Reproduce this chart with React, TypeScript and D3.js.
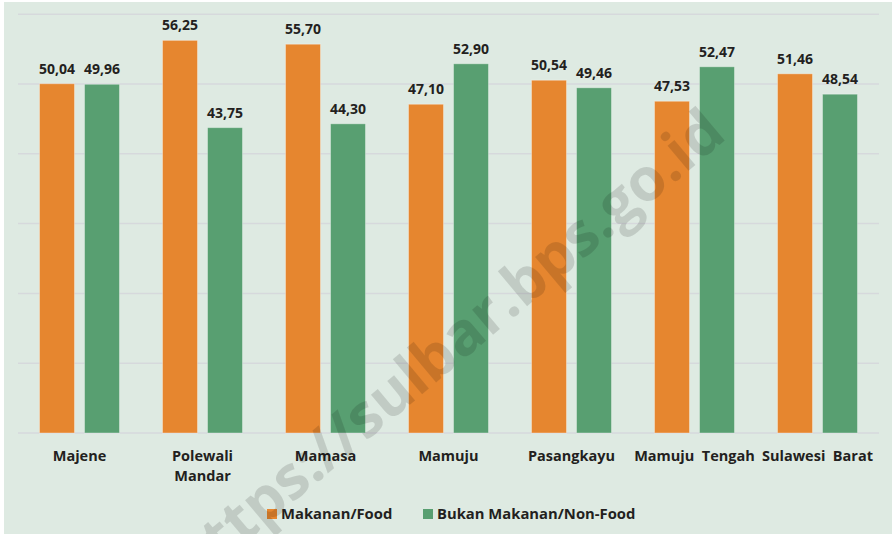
import React from "react";
import * as d3 from "d3";

const categories: string[][] = [
  ["Majene"],
  ["Polewali", "Mandar"],
  ["Mamasa"],
  ["Mamuju"],
  ["Pasangkayu"],
  ["Mamuju  Tengah"],
  ["Sulawesi  Barat"],
];
const seriesNames = ["Makanan/Food", "Bukan Makanan/Non-Food"];
const foodValues = [50.04, 56.25, 55.7, 47.1, 50.54, 47.53, 51.46];
const nonFoodValues = [49.96, 43.75, 44.3, 52.9, 49.46, 52.47, 48.54];
const yTicks = [0, 10, 20, 30, 40, 50, 60];
const colors = ["#e6862f", "#589f71"];

const W = 892;
const H = 534;
const plotLeft = 18;
const plotRight = 879;
const plotTop = 14.2;
const plotBottom = 433;
const FONT = "'Open Sans', 'Noto Sans', sans-serif";
const TEXT = "#231f20";

export default function App() {
  const x0 = d3
    .scaleBand<number>()
    .domain(d3.range(categories.length))
    .range([plotLeft, plotRight])
    .paddingInner(0)
    .paddingOuter(0);
  const step = x0.bandwidth();
  const x1 = d3
    .scaleBand<number>()
    .domain([0, 1])
    .range([step / 2 - 40, step / 2 + 40])
    .paddingInner(2 / 9)
    .paddingOuter(0);
  const y = d3.scaleLinear().domain([0, 60]).range([plotBottom, plotTop]);
  const series = [foodValues, nonFoodValues];
  const fmt = (v: number) => v.toFixed(2).replace(".", ",");

  return (
    <svg
      width={W}
      height={H}
      style={{ position: "absolute", left: 0, top: 0 }}
      fontFamily={FONT}
    >
      <rect x={0} y={0} width={W} height={H} fill="#ffffff" />
      <rect x={4} y={2} width={W - 4} height={H - 2} fill="#deeae2" />
      {yTicks.map((t) => (
        <line
          key={t}
          x1={plotLeft}
          x2={plotRight}
          y1={y(t)}
          y2={y(t)}
          stroke="#d6d9dc"
          strokeWidth={1.5}
        />
      ))}
      {categories.map((cat, i) => (
        <g key={i} transform={`translate(${x0(i)},0)`}>
          {series.map((vals, s) => {
            const bx = x1(s)!;
            const bw = x1.bandwidth();
            return (
              <g key={s}>
                <rect
                  x={bx}
                  y={y(vals[i])}
                  width={bw}
                  height={y(0) - y(vals[i])}
                  fill={colors[s]}
                  stroke="rgba(255,255,255,0.35)"
                  strokeWidth={1}
                />
                <text
                  x={bx + bw / 2}
                  y={y(vals[i]) - 10}
                  textAnchor="middle"
                  fontSize={14}
                  fontWeight={700}
                  fill={TEXT}
                >
                  {fmt(vals[i])}
                </text>
              </g>
            );
          })}
          {cat.map((line, k) => (
            <text
              key={k}
              x={step / 2}
              y={460.5 + k * 20}
              textAnchor="middle"
              fontSize={14.5}
              fontWeight={700}
              fill={TEXT}
              style={{ whiteSpace: "pre" }}
            >
              {line}
            </text>
          ))}
        </g>
      ))}
      {/* legend */}
      <g fontSize={14.8} fontWeight={700} fill={TEXT}>
        <rect x={267} y={509} width={10} height={10} fill={colors[0]} />
        <text x={281} y={519}>{seriesNames[0]}</text>
        <rect x={423} y={509} width={10} height={10} fill={colors[1]} />
        <text x={437} y={519}>{seriesNames[1]}</text>
      </g>
      {/* watermark */}
      <text
        transform="translate(450,350) rotate(-40)"
        textAnchor="middle"
        dominantBaseline="middle"
        fontSize={60}
        fontWeight={700}
        fill="#000"
        fillOpacity={0.13}
      >
        https://sulbar.bps.go.id
      </text>
    </svg>
  );
}
